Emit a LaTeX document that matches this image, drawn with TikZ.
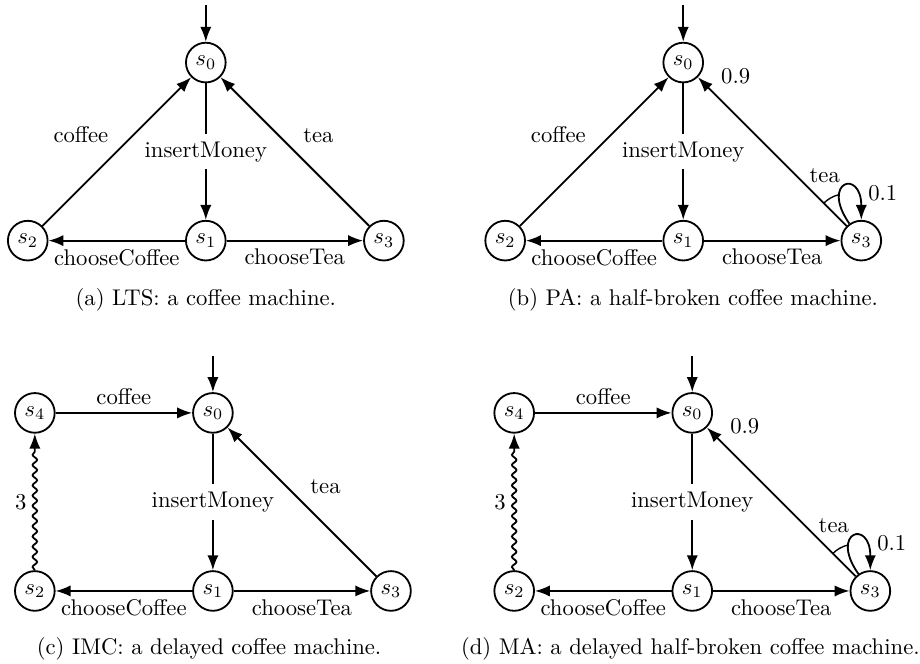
\documentclass[tikz,border=0pt]{standalone}
\usetikzlibrary{arrows.meta,positioning,decorations.pathmorphing}
\begin{document}
\begin{tikzpicture}[
    node distance=2.76cm,
    >=Latex,
    state/.style={circle,draw=black,thick,minimum size=17.5pt,inner sep=0pt},
    trans/.style={->,thick},
    delay/.style={->,thick,decorate,decoration={snake,amplitude=1pt,segment length=4.5pt,post length=2mm}},
    branch/.style={semithick}]
    \useasboundingbox (0,0) rectangle (14.26,10.28);
    % (a) LTS
    \node[state] (a-s0) at (3.19,9.31) {$s_0$};
    \node[state, below of = a-s0] (a-s1) {$s_1$};
    \node[state, left of = a-s1] (a-s2) {$s_2$};
    \node[state, right of = a-s1] (a-s3) {$s_3$};
    \coordinate[above of = a-s0, node distance=0.9cm] (a-in);
    \path[trans] (a-in) edge (a-s0);
    \path[trans] (a-s0) edge node[fill=white] {insertMoney} (a-s1);
    \path[trans] (a-s1) edge node[below] {chooseCoffee} (a-s2);
    \path[trans] (a-s1) edge node[below] {chooseTea} (a-s3);
    \path[trans] (a-s2) edge node[above left] {coffee} (a-s0);
    \path[trans] (a-s3) edge node[above right] {tea} (a-s0);
    \node (a-cap) at (3.19,5.63) {(a) LTS: a coffee machine.};
    % (b) PA
    \node[state] (b-s0) at (10.59,9.31) {$s_0$};
    \node[state, below of = b-s0] (b-s1) {$s_1$};
    \node[state, left of = b-s1] (b-s2) {$s_2$};
    \node[state, right of = b-s1] (b-s3) {$s_3$};
    \coordinate[above of = b-s0, node distance=0.9cm] (b-in);
    \path[trans] (b-in) edge (b-s0);
    \path[trans] (b-s0) edge node[fill=white] {insertMoney} (b-s1);
    \path[trans] (b-s1) edge node[below] {chooseCoffee} (b-s2);
    \path[trans] (b-s1) edge node[below] {chooseTea} (b-s3);
    \path[trans] (b-s2) edge node[above left] {coffee} (b-s0);
    \path[trans] (b-s3) edge node[pos=0.27, above right, inner sep=1pt] {tea} node[pos=0.9, above right] {0.9} (b-s0);
    \path[trans] (b-s3.125) edge[out=125, in=90, min distance=8mm] node[pos=0.75, right=2pt] {0.1} (b-s3.north);
    \draw[branch] (b-s3.135) ++(135:0.5) arc[start angle=135, end angle=105, radius=0.5];
    \node (b-cap) at (10.74,5.63) {(b) PA: a half-broken coffee machine.};
    % (c) IMC
    \node[state] (c-s0) at (3.30,3.88) {$s_0$};
    \node[state, left of = c-s0] (c-s4) {$s_4$};
    \node[state, below of = c-s0] (c-s1) {$s_1$};
    \node[state, left of = c-s1] (c-s2) {$s_2$};
    \node[state, right of = c-s1] (c-s3) {$s_3$};
    \coordinate[above of = c-s0, node distance=0.88cm] (c-in);
    \path[trans] (c-in) edge (c-s0);
    \path[trans] (c-s4) edge node[above] {coffee} (c-s0);
    \path[trans] (c-s0) edge node[fill=white] {insertMoney} (c-s1);
    \path[trans] (c-s1) edge node[below] {chooseCoffee} (c-s2);
    \path[trans] (c-s1) edge node[below] {chooseTea} (c-s3);
    \path[trans] (c-s3) edge node[above right] {tea} (c-s0);
    \draw[delay] (c-s2) -- node[left] {3} (c-s4);
    \node (c-cap) at (3.24,0.22) {(c) IMC: a delayed coffee machine.};
    % (d) MA
    \node[state] (d-s0) at (10.73,3.88) {$s_0$};
    \node[state, left of = d-s0] (d-s4) {$s_4$};
    \node[state, below of = d-s0] (d-s1) {$s_1$};
    \node[state, left of = d-s1] (d-s2) {$s_2$};
    \node[state, right of = d-s1] (d-s3) {$s_3$};
    \coordinate[above of = d-s0, node distance=0.88cm] (d-in);
    \path[trans] (d-in) edge (d-s0);
    \path[trans] (d-s4) edge node[above] {coffee} (d-s0);
    \path[trans] (d-s0) edge node[fill=white] {insertMoney} (d-s1);
    \path[trans] (d-s1) edge node[below] {chooseCoffee} (d-s2);
    \path[trans] (d-s1) edge node[below] {chooseTea} (d-s3);
    \path[trans] (d-s3) edge node[pos=0.27, above right, inner sep=1pt] {tea} node[pos=0.9, above right] {0.9} (d-s0);
    \path[trans] (d-s3.125) edge[out=125, in=90, min distance=8mm] node[pos=0.75, right=2pt] {0.1} (d-s3.north);
    \draw[branch] (d-s3.135) ++(135:0.5) arc[start angle=135, end angle=105, radius=0.5];
    \draw[delay] (d-s2) -- node[left] {3} (d-s4);
    \node (d-cap) at (10.70,0.22) {(d) MA: a delayed half-broken coffee machine.};
\end{tikzpicture}
\end{document}
